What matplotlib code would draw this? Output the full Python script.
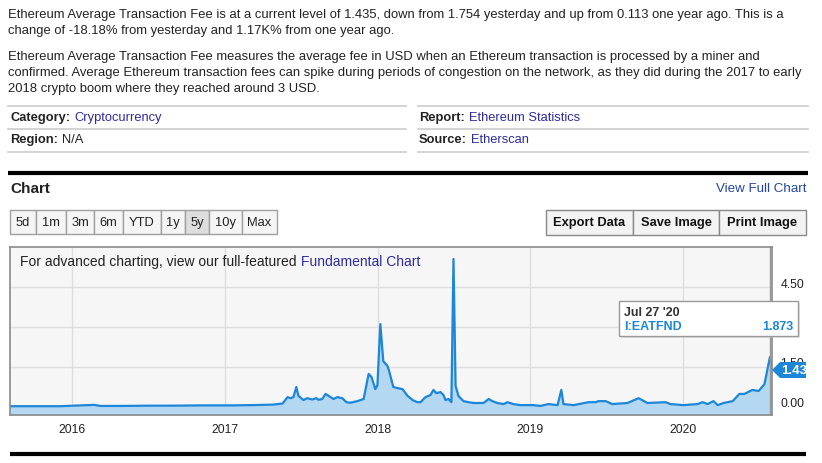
import matplotlib
matplotlib.use("Agg")
import matplotlib.pyplot as plt
from matplotlib.patches import Rectangle, Polygon
from matplotlib.transforms import ScaledTranslation
import pandas as pd

plt.rcParams['font.family'] = ['Liberation Sans', 'DejaVu Sans']

# chart data
dates = [
    "2015-08-05", "2015-10-01", "2015-12-03", "2016-02-22", "2016-03-08", "2016-05-01",
    "2016-07-05", "2016-09-01", "2016-11-02", "2017-01-13", "2017-03-02", "2017-04-26",
    "2017-05-18", "2017-05-30", "2017-06-06", "2017-06-13", "2017-06-20", "2017-06-25",
    "2017-07-07", "2017-07-16", "2017-07-28", "2017-08-07", "2017-08-12", "2017-08-21",
    "2017-08-29", "2017-09-05", "2017-09-17", "2017-09-26", "2017-10-08", "2017-10-18",
    "2017-10-27", "2017-11-13", "2017-11-28", "2017-12-10", "2017-12-17", "2017-12-26",
    "2017-12-31", "2018-01-07", "2018-01-14", "2018-01-24", "2018-01-28", "2018-02-07",
    "2018-02-17", "2018-03-01", "2018-03-13", "2018-03-20", "2018-03-25", "2018-04-06",
    "2018-04-13", "2018-04-25", "2018-05-07", "2018-05-14", "2018-05-21", "2018-05-31",
    "2018-06-07", "2018-06-12", "2018-06-19", "2018-06-26", "2018-07-01", "2018-07-06",
    "2018-07-13", "2018-07-25", "2018-08-06", "2018-08-18", "2018-09-11", "2018-09-23",
    "2018-10-02", "2018-10-14", "2018-10-29", "2018-11-07", "2018-11-21", "2018-12-08",
    "2019-01-08", "2019-01-25", "2019-02-13", "2019-03-07", "2019-03-16", "2019-03-21",
    "2019-04-14", "2019-05-20", "2019-06-06", "2019-06-13", "2019-06-30", "2019-07-16",
    "2019-08-21", "2019-09-17", "2019-10-08", "2019-11-20", "2019-12-02", "2020-01-02",
    "2020-02-05", "2020-02-17", "2020-02-29", "2020-03-14", "2020-03-24", "2020-04-07",
    "2020-04-29", "2020-05-15", "2020-05-27", "2020-06-15", "2020-06-30", "2020-07-14",
    "2020-07-27", "2020-07-31",
]
fees = [
    0.03, 0.03, 0.03, 0.08, 0.04, 0.04,
    0.05, 0.05, 0.06, 0.06, 0.07, 0.09,
    0.13, 0.37, 0.33, 0.37, 0.75, 0.42,
    0.26, 0.33, 0.28, 0.33, 0.27, 0.30,
    0.49, 0.42, 0.30, 0.37, 0.33, 0.18,
    0.16, 0.22, 0.30, 1.24, 1.12, 0.67,
    0.82, 3.11, 1.72, 1.54, 1.35, 0.75,
    0.71, 0.67, 0.42, 0.33, 0.26, 0.18,
    0.18, 0.37, 0.45, 0.64, 0.52, 0.56,
    0.45, 0.26, 0.30, 0.18, 5.55, 0.79,
    0.41, 0.22, 0.18, 0.15, 0.15, 0.30,
    0.22, 0.15, 0.11, 0.18, 0.11, 0.07,
    0.07, 0.04, 0.11, 0.07, 0.64, 0.11,
    0.07, 0.18, 0.18, 0.22, 0.22, 0.11,
    0.15, 0.33, 0.15, 0.18, 0.11, 0.07,
    0.11, 0.18, 0.11, 0.22, 0.07, 0.15,
    0.22, 0.49, 0.49, 0.64, 0.60, 0.86,
    1.873, 1.435,
]
year_ticks = ["2016-01-01", "2017-01-01", "2018-01-01", "2019-01-01", "2020-01-01"]
year_labels = ["2016", "2017", "2018", "2019", "2020"]
value_ticks = [0.0, 1.5, 3.0, 4.5]
value_labels = ["0.00", "1.50", "", "4.50"]  # 3.00 sits behind the tooltip
range_buttons = ["5d", "1m", "3m", "6m", "YTD", "1y", "5y", "10y", "Max"]
action_buttons = ["Export Data", "Save Image", "Print Image"]

W, H = 822, 464
LINK = '#2b2ba6'
LINE = '#1c86d8'

fig = plt.figure(figsize=(W / 100, H / 100), dpi=100)
fig.patch.set_facecolor('white')

# page layer in pixel coordinates
page = fig.add_axes([0, 0, 1, 1])
page.set_xlim(0, W)
page.set_ylim(H, 0)
page.axis('off')

p1 = ("Ethereum Average Transaction Fee is at a current level of 1.435, down from 1.754 "
      "yesterday and up from 0.113 one year ago. This is a")
p2 = "change of -18.18% from yesterday and 1.17K% from one year ago."
p3 = ("Ethereum Average Transaction Fee measures the average fee in USD when an Ethereum "
      "transaction is processed by a miner and")
p4 = ("confirmed. Average Ethereum transaction fees can spike during periods of congestion "
      "on the network, as they did during the 2017 to early")
p5 = "2018 crypto boom where they reached around 3 USD."
for y, t in [(15, p1), (31, p2), (57, p3), (73, p4), (89, p5)]:
    page.text(8, y, t, fontsize=9.4, color='#222222', va='center')

# info table
for y in [107, 129.5, 152.5]:
    page.plot([8, 406], [y, y], color='#cccccc', lw=1.2)
    page.plot([418, 808], [y, y], color='#cccccc', lw=1.2)


def label_value(x, y, lab, val, color):
    t = page.text(x, y, lab, fontsize=9.3, fontweight='bold', color='#222222', va='center')
    fig.canvas.draw()
    bb = t.get_window_extent()
    page.text(x + bb.width + 4, y, val, fontsize=9.3, color=color, va='center')


label_value(10, 118, "Category:", "Cryptocurrency", LINK)
label_value(10, 140, "Region:", "N/A", '#222222')
label_value(419, 118, "Report:", "Ethereum Statistics", LINK)
label_value(419, 140, "Source:", "Etherscan", LINK)

page.plot([8, 808], [174, 174], color='black', lw=3, solid_capstyle='butt')
page.text(10, 189, "Chart", fontsize=11, fontweight='bold', color='#222222', va='center')
page.text(806, 189, "View Full Chart", fontsize=9.6, color='#2244aa', va='center', ha='right')

# range buttons
edges = [10, 36, 66, 94, 123, 161, 185, 209, 242, 277]
for i, lab in enumerate(range_buttons):
    x0, x1 = edges[i], edges[i + 1]
    fc = '#dddddd' if lab == "5y" else '#f5f5f5'
    page.add_patch(Rectangle((x0, 211), x1 - x0, 24, fc=fc, ec='#a0a0a0', lw=1))
    page.text((x0 + x1) / 2, 223, lab, fontsize=9.3, color='#222222', ha='center', va='center')

edges = [546, 633, 719, 806]
for i, lab in enumerate(action_buttons):
    x0, x1 = edges[i], edges[i + 1]
    page.add_patch(Rectangle((x0, 211), x1 - x0, 25, fc='#f3f3f3', ec='#888888', lw=1))
    page.text((x0 + x1) / 2, 223.5, lab, fontsize=9.3, fontweight='bold', color='#111111',
              ha='center', va='center')

page.plot([10, 806], [455, 455], color='black', lw=3, solid_capstyle='butt')

# the chart itself
x = pd.to_datetime(dates)
ax = fig.add_axes([10 / W, 1 - 416 / H, 762 / W, 168 / H])
ax.set_facecolor('#f6f6f6')
ax.fill_between(x, fees, -0.3, color='#b4d7f2', lw=0)
ax.plot(x, fees, color=LINE, lw=1.6, solid_joinstyle='round')
ax.set_xlim(pd.Timestamp("2015-08-05"), pd.Timestamp("2020-08-01"))
ax.set_ylim(-0.3, 6.0)
ax.set_xticks(pd.to_datetime(year_ticks))
ax.set_xticklabels(year_labels)
ax.set_yticks(value_ticks)
ax.set_yticklabels(value_labels)
ax.yaxis.tick_right()
ax.grid(True, color='#dedede', lw=1)
ax.set_axisbelow(True)
ax.tick_params(length=0, labelsize=8.8, colors='#222222')
ax.tick_params(axis='x', pad=6)
ax.tick_params(axis='y', pad=6)
for lab in ax.get_yticklabels():
    lab.set_transform(lab.get_transform() + ScaledTranslation(0, 5 / 100, fig.dpi_scale_trans))
for s in ax.spines.values():
    s.set_color('#8a8a8a')
    s.set_linewidth(1.2)
ax.axvline(pd.Timestamp("2020-07-27"), color='#999999', lw=1)
ax.text(10 / 762, 1 - 14 / 168, "For advanced charting, view our full-featured",
        transform=ax.transAxes, fontsize=10, color='#222222', va='center')
ax.text(291 / 762, 1 - 14 / 168, "Fundamental Chart", transform=ax.transAxes,
        fontsize=10, color=LINK, va='center')

# overlay: tooltip and current value flag
top = fig.add_axes([0, 0, 1, 1])
top.set_xlim(0, W)
top.set_ylim(H, 0)
top.axis('off')
top.patch.set_alpha(0)
top.add_patch(Rectangle((621, 304), 179, 35, fc='#cccccc', ec='none', alpha=0.5))
top.add_patch(Rectangle((619, 302), 179, 35, fc='white', ec='#999999', lw=1))
top.text(624, 313, "Jul 27 '20", fontsize=9, fontweight='bold', color='#333333', va='center')
top.text(624, 327, "I:EATFND", fontsize=9, fontweight='bold', color=LINE, va='center')
top.text(793, 327, "1.873", fontsize=9, fontweight='bold', color=LINE, va='center', ha='right')

top.add_patch(Polygon([(772, 371), (780, 363), (812, 363), (812, 379), (780, 379)],
                      closed=True, fc=LINE, ec='none'))
top.text(781, 371, "1.435", fontsize=9.5, fontweight='bold', color='white', va='center')
top.add_patch(Rectangle((806, 355), 16, 30, fc='white', ec='none'))

fig.savefig("out.png", dpi=100, facecolor='white')
